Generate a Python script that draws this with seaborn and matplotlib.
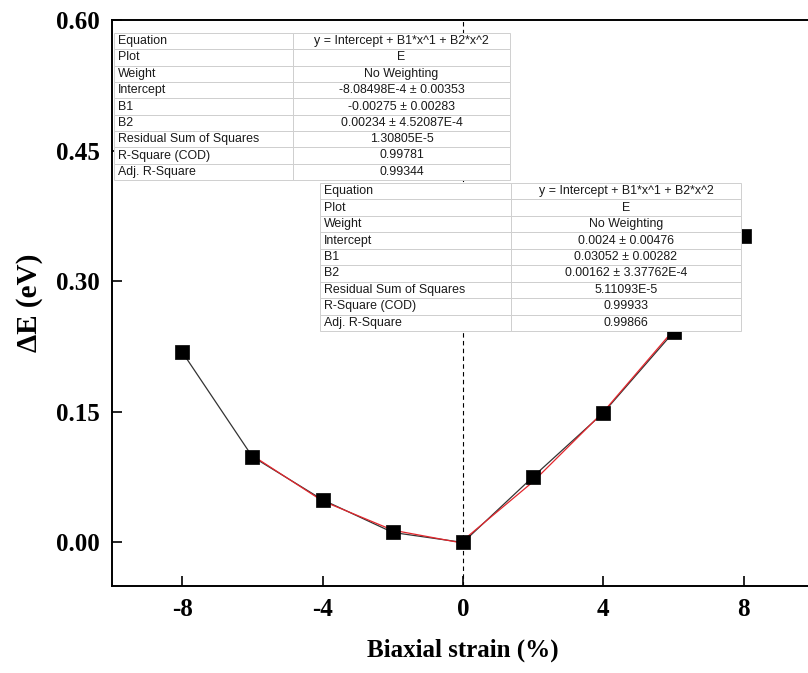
import matplotlib
matplotlib.use("Agg")
import matplotlib.pyplot as plt
import seaborn as sns
import pandas as pd

# ---- data ----
strain = [-8, -6, -4, -2, 0, 2, 4, 6, 8]
delta_e = [0.2187, 0.0985, 0.049, 0.0115, 0.0, 0.0756, 0.149, 0.2416, 0.3515]

fit_left_x = [-6, -4, -2, 0]
fit_left_y = [0.0999, 0.0476, 0.0141, -0.0008]
fit_right_x = [0, 2, 4, 6, 8]
fit_right_y = [0.0024, 0.0699, 0.1500, 0.2440, 0.3500]

table_labels = ["Equation", "Plot", "Weight", "Intercept", "B1", "B2",
                "Residual Sum of Squares", "R-Square (COD)", "Adj. R-Square"]
table1_values = ["y = Intercept + B1*x^1 + B2*x^2", "E", "No Weighting",
                 "-8.08498E-4 ± 0.00353", "-0.00275 ± 0.00283",
                 "0.00234 ± 4.52087E-4", "1.30805E-5", "0.99781", "0.99344"]
table2_values = ["y = Intercept + B1*x^1 + B2*x^2", "E", "No Weighting",
                 "0.0024 ± 0.00476", "0.03052 ± 0.00282",
                 "0.00162 ± 3.37762E-4", "5.11093E-5", "0.99933", "0.99866"]

xticks = [-8, -4, 0, 4, 8]
yticks = [0.00, 0.15, 0.30, 0.45, 0.60]

sns.set_theme(style="white")
plt.rcParams['font.family'] = ['Liberation Serif', 'DejaVu Serif']

fig = plt.figure(figsize=(8.08, 6.73), dpi=100)
ax = fig.add_axes([112/808, 87/673, 702/808, 566/673])

df = pd.DataFrame({"strain": strain, "dE": delta_e})
dl = pd.DataFrame({"x": fit_left_x, "y": fit_left_y})
dr = pd.DataFrame({"x": fit_right_x, "y": fit_right_y})

ax.axvline(0, color="black", lw=0.8, ls=(0, (4, 3)), zorder=1)

sns.lineplot(data=df, x="strain", y="dE", ax=ax, color="#333333", lw=0.9,
             sort=False, zorder=2)
sns.lineplot(data=dl, x="x", y="y", ax=ax, color="#e3262c", lw=0.9, sort=False, zorder=3)
sns.lineplot(data=dr, x="x", y="y", ax=ax, color="#e3262c", lw=0.9, sort=False, zorder=3)
sns.scatterplot(data=df, x="strain", y="dE", ax=ax, marker="s", s=90,
                color="black", edgecolor="black", linewidth=0.5, zorder=4)

ax.set_xlim(-10, 10)
ax.set_ylim(-0.05, 0.6)
ax.set_xticks(xticks)
ax.set_xticklabels([str(t) for t in xticks])
ax.set_yticks(yticks)
ax.set_yticklabels([f"{t:.2f}" for t in yticks])

for s in ax.spines.values():
    s.set_color("black")
    s.set_linewidth(1.4)
    s.set_visible(True)

ax.tick_params(axis="both", direction="in", length=7, width=1.2, color="black",
               labelsize=18, labelcolor="black", bottom=True, left=True,
               top=False, right=False)
ax.tick_params(axis="x", pad=9)
ax.tick_params(axis="y", pad=9)
for lab in ax.get_xticklabels() + ax.get_yticklabels():
    lab.set_fontweight("bold")

ax.set_xlabel("Biaxial strain (%)", fontsize=18, fontweight="bold", color="black", labelpad=12)
ax.set_ylabel("ΔE (eV)", fontsize=21, fontweight="bold", color="black", labelpad=9)


def add_table(values, bbox, left_frac):
    rows = [[l, v] for l, v in zip(table_labels, values)]
    tb = ax.table(cellText=rows, cellLoc="center", bbox=bbox,
                  colWidths=[left_frac, 1 - left_frac])
    tb.auto_set_font_size(False)
    tb.set_fontsize(8.9)
    for (r, c), cell in tb.get_celld().items():
        cell.set_edgecolor("#cfcfcf")
        cell.set_linewidth(0.7)
        cell.set_facecolor("white")
        t = cell.get_text()
        t.set_fontfamily(["Liberation Sans", "DejaVu Sans"])
        t.set_color("#1a1a1a")
        if c == 0:
            cell._loc = "left"
            cell.PAD = 0.02
            t.set_horizontalalignment("left")
    tb.set_zorder(10)
    return tb


ax_w, ax_h = 702.0, 566.0
add_table(table1_values,
          [(114 - 112) / ax_w, (586 - 180) / ax_h, (510 - 114) / ax_w, (180 - 33) / ax_h],
          179 / 396)
add_table(table2_values,
          [(320 - 112) / ax_w, (586 - 331) / ax_h, (741 - 320) / ax_w, (331 - 183) / ax_h],
          191 / 421)

fig.savefig("out.png", dpi=100)
